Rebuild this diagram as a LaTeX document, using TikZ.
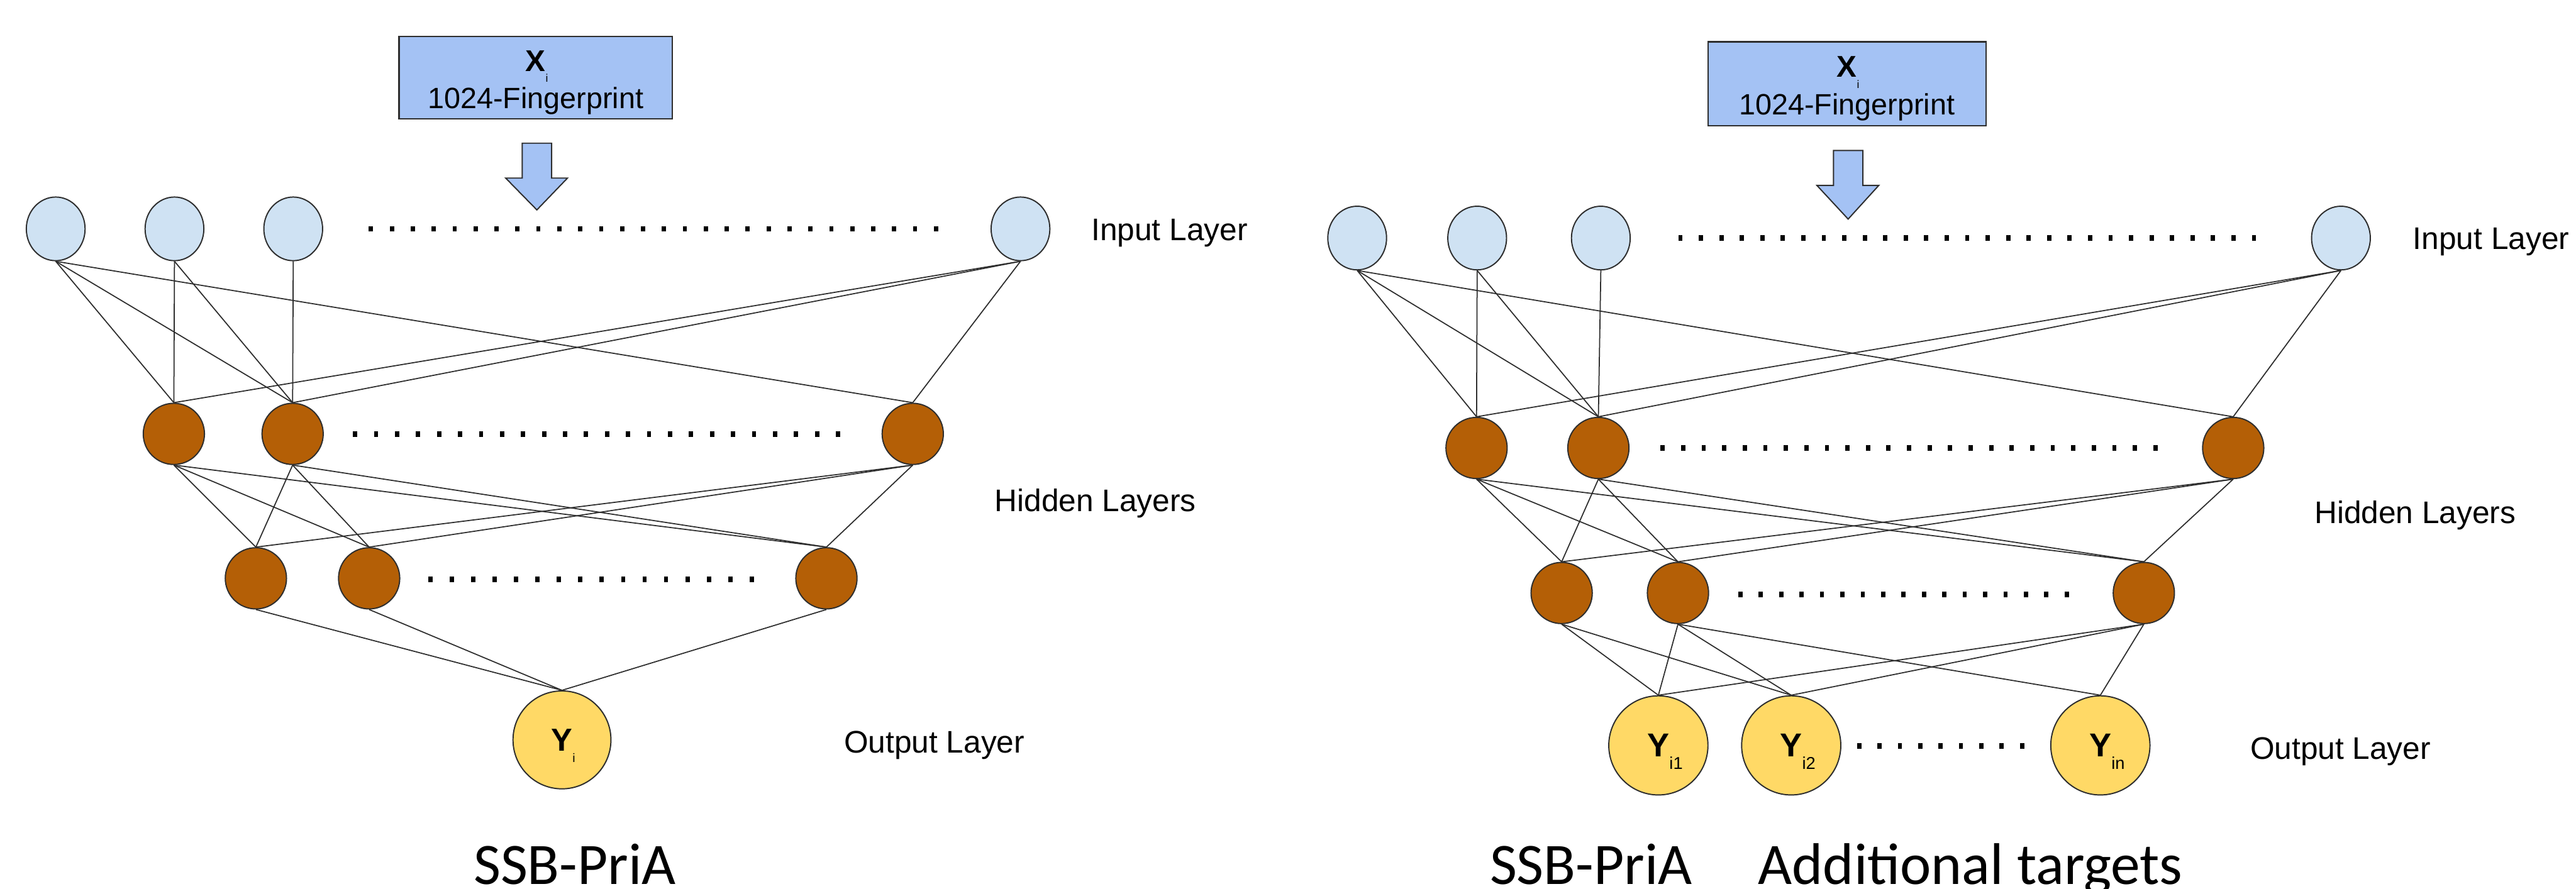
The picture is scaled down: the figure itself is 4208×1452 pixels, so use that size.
\documentclass[tikz,border=0pt]{standalone}
\usepackage{fontspec}
\setmainfont{Liberation Sans}
\newfontfamily\capfont{Carlito}
\usetikzlibrary{shapes.geometric}
\definecolor{inblue}{HTML}{CFE2F3}
\definecolor{hidbrown}{HTML}{B45F06}
\definecolor{outyel}{HTML}{FFD966}
\definecolor{boxblue}{HTML}{A4C2F4}
\definecolor{edgecol}{HTML}{2E2E2E}
\tikzset{
 inneuron/.style={ellipse, draw=edgecol, line width=0.5pt, fill=inblue, minimum width=24pt, minimum height=26pt, inner sep=0pt},
 hidneuron/.style={circle, draw=edgecol, line width=0.5pt, fill=hidbrown, minimum size=25pt, inner sep=0pt},
 outneuron/.style={circle, draw=edgecol, line width=0.5pt, fill=outyel, minimum size=40pt, inner sep=0pt, font=\fontsize{13}{13}\selectfont\bfseries},
 inbox/.style={rectangle, draw=edgecol, line width=0.6pt, fill=boxblue, minimum width=111.5pt, minimum height=33.75pt, inner sep=0pt, align=center, font=\fontsize{12}{15.25}\selectfont},
 conn/.style={draw=edgecol, line width=0.45pt},
 layerlabel/.style={anchor=base west, inner sep=0pt, font=\fontsize{12.75}{12.75}\selectfont},
 captext/.style={anchor=base west, inner sep=0pt, font=\capfont\fontsize{24}{24}\selectfont},
 blockarrow/.style={draw=edgecol, line width=0.5pt, fill=boxblue, line join=miter},
 dotsq/.style={fill=black}
}
\newcommand{\dotrow}[4]{%
  \pgfmathsetmacro{\dstep}{(#2-#1)/#4}%
  \foreach \k in {0,...,#4}{%
    \pgfmathsetmacro{\xx}{#1+\dstep*\k}%
    \fill[dotsq] (\xx-3.5,#3-4.5) rectangle (\xx+3.5,#3+4.5);
  }}
\newcommand{\boxtext}{\rule{0pt}{12.3pt}{\bfseries\fontsize{12.25}{12.25}\selectfont X}\rlap{\smash{\raisebox{-4.5pt}{\fontsize{4.5}{4.5}\selectfont i}}}\\1024-Fingerprint}
\begin{document}
\begin{tikzpicture}[x=0.25pt,y=-0.25pt]
\path[use as bounding box] (0,0) rectangle (4208,1452);

% ================= LEFT PANEL =================
\node[inbox] (LB) at (875,127) {\boxtext};
\draw[blockarrow] (853,234) -- (901,234) -- (901,291) -- (927,291) -- (877,343) -- (826,291) -- (853,291) -- cycle;

\node[inneuron] (Li1) at (91,374) {};
\node[inneuron] (Li2) at (285,374) {};
\node[inneuron] (Li3) at (479,374) {};
\node[inneuron] (Li4) at (1667,374) {};

\node[hidneuron] (Lh1) at (284,709) {};
\node[hidneuron] (Lh2) at (478,709) {};
\node[hidneuron] (Lh3) at (1491,709) {};

\node[hidneuron] (Lg1) at (418,945) {};
\node[hidneuron] (Lg2) at (603,945) {};
\node[hidneuron] (Lg3) at (1350,945) {};

\node[outneuron] (Lo1) at (918,1209) {Y\rlap{\smash{\raisebox{-4.75pt}{\mdseries\fontsize{5}{5}\selectfont i}}}};

\foreach \a/\b in {i1/h1,i1/h2,i1/h3,i2/h1,i2/h2,i3/h2,i4/h1,i4/h2,i4/h3}
  \draw[conn] (L\a.south) -- (L\b.north);
\foreach \a/\b in {h1/g1,h1/g2,h1/g3,h2/g1,h2/g2,h2/g3,h3/g1,h3/g2,h3/g3}
  \draw[conn] (L\a.south) -- (L\b.north);
\foreach \a/\b in {g1/o1,g2/o1,g3/o1}
  \draw[conn] (L\a.south) -- (L\b.north);

\dotrow{606}{1529}{374}{27}
\dotrow{580}{1369}{709}{23}
\dotrow{703}{1228}{947}{15}

\node[layerlabel] (LlabIn) at (1782,393) {Input Layer};
\node[layerlabel] (LlabHid) at (1624,836) {Hidden Layers};
\node[layerlabel] (LlabOut) at (1378,1230) {Output Layer};

\node[captext] (Lcap) at (773,1445) {SSB-PriA};

% ================= RIGHT PANEL =================
\node[inbox, minimum width=113.5pt, minimum height=34.25pt] (RB) at (3017,137) {\boxtext};
\draw[blockarrow] (2995,246) -- (3043,246) -- (3043,303) -- (3069,303) -- (3019,358) -- (2968,303) -- (2995,303) -- cycle;

\node[inneuron] (Ri1) at (2217,389) {};
\node[inneuron] (Ri2) at (2413,389) {};
\node[inneuron] (Ri3) at (2615,389) {};
\node[inneuron] (Ri4) at (3824,389) {};

\node[hidneuron] (Rh1) at (2412,732) {};
\node[hidneuron] (Rh2) at (2611,732) {};
\node[hidneuron] (Rh3) at (3648,732) {};

\node[hidneuron] (Rg1) at (2551,969) {};
\node[hidneuron] (Rg2) at (2741,969) {};
\node[hidneuron] (Rg3) at (3502,969) {};

\node[outneuron, minimum size=40.5pt, font=\fontsize{13.5}{13.5}\selectfont\bfseries] (Ro1) at (2709,1218) {Y\rlap{\smash{\raisebox{-5pt}{\mdseries\fontsize{7}{7}\selectfont i1}}}};
\node[outneuron, minimum size=40.5pt, font=\fontsize{13.5}{13.5}\selectfont\bfseries] (Ro2) at (2926,1218) {Y\rlap{\smash{\raisebox{-5pt}{\mdseries\fontsize{7}{7}\selectfont i2}}}};
\node[outneuron, minimum size=40.5pt, font=\fontsize{13.5}{13.5}\selectfont\bfseries] (Ro3) at (3431,1218) {Y\rlap{\smash{\raisebox{-5pt}{\mdseries\fontsize{7}{7}\selectfont in}}}};

\foreach \a/\b in {i1/h1,i1/h2,i1/h3,i2/h1,i2/h2,i3/h2,i4/h1,i4/h2,i4/h3}
  \draw[conn] (R\a.south) -- (R\b.north);
\foreach \a/\b in {h1/g1,h1/g2,h1/g3,h2/g1,h2/g2,h2/g3,h3/g1,h3/g2,h3/g3}
  \draw[conn] (R\a.south) -- (R\b.north);
\foreach \a/\b in {g1/o1,g1/o2,g2/o1,g2/o2,g2/o3,g3/o1,g3/o2,g3/o3}
  \draw[conn] (R\a.south) -- (R\b.north);

\dotrow{2745}{3682}{389}{28}
\dotrow{2716}{3521}{732}{24}
\dotrow{2843}{3376}{971}{16}
\dotrow{3037}{3303}{1219}{8}

\node[layerlabel] (RlabIn) at (3941,407) {Input Layer};
\node[layerlabel] (RlabHid) at (3780,855) {Hidden Layers};
\node[layerlabel] (RlabOut) at (3675,1241) {Output Layer};

\node[captext] (Rcap) at (2433,1445) {SSB-PriA\hspace{27pt}Additional targets};
\end{tikzpicture}
\end{document}
